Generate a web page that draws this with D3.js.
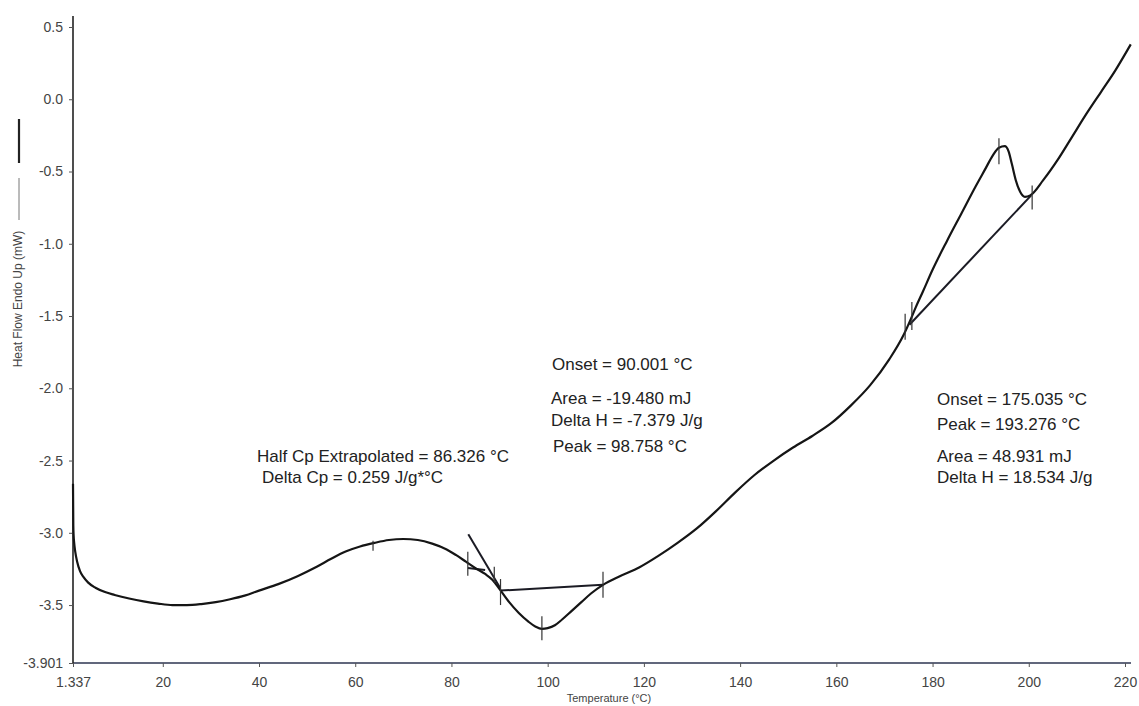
<!DOCTYPE html>
<html>
<head>
<meta charset="utf-8">
<script src="https://cdn.jsdelivr.net/npm/d3@7"></script>
<style>
  html, body { margin: 0; padding: 0; background: #fff; }
  svg { display: block; font-family: "Liberation Sans", Arial, sans-serif; }
</style>
</head>
<body>
<svg id="chart" width="1139" height="706"></svg>
<script>
// DSC heat-flow trace: temperature (°C) vs heat flow, endo up (mW)
const heatFlow = [
  [1.337, -2.66], [1.40, -2.95], [1.47, -3.02], [1.58, -3.07], [1.8, -3.13], [2.2, -3.2],
  [2.8, -3.265], [3.5, -3.305], [4.5, -3.345], [6, -3.38], [8, -3.41], [10, -3.43],
  [13, -3.455], [16, -3.475], [19, -3.49], [22, -3.5], [25, -3.5], [28, -3.493],
  [31, -3.48], [34, -3.46], [37, -3.435], [40, -3.4], [44, -3.355], [48, -3.3],
  [52, -3.235], [55, -3.18], [58, -3.13], [61, -3.095], [64, -3.07], [67, -3.05],
  [70, -3.043], [73, -3.05], [76, -3.075], [79, -3.115], [81, -3.155], [83, -3.2],
  [85, -3.245], [87, -3.285], [88.5, -3.325], [90, -3.39], [92, -3.48], [94, -3.555],
  [96, -3.615], [97.5, -3.65], [98.8, -3.665], [100, -3.66], [101.5, -3.64], [103, -3.6],
  [105, -3.54], [107, -3.48], [109, -3.42], [111.5, -3.36], [115, -3.3], [119, -3.24],
  [123, -3.16], [127, -3.07], [131, -2.97], [135, -2.85], [139, -2.72], [143, -2.6],
  [147, -2.5], [151, -2.41], [155, -2.33], [159, -2.24], [163, -2.12], [167, -1.98],
  [171, -1.8], [174, -1.63], [175.5, -1.52], [176.5, -1.44], [178, -1.33], [180, -1.18],
  [183, -0.98], [186, -0.79], [189, -0.6], [191, -0.48], [192.5, -0.39], [193.8, -0.335],
  [195, -0.325], [195.8, -0.36], [196.5, -0.45], [197.3, -0.56], [198.2, -0.64],
  [199.2, -0.675], [200.3, -0.665], [203, -0.56], [206, -0.42], [209, -0.26],
  [212, -0.1], [215, 0.05], [218, 0.2], [221.2, 0.38]
];

// Construction lines from the analysis (start and end points)
const tgTangent = [[83.5, -3.01], [90.1, -3.38]];
const tgBaseline = [[83.4, -3.243], [87.0, -3.257]];
const exoBaseline = [[90.1, -3.40], [111.5, -3.36]];
const endoBaseline = [[175.2, -1.56], [200.5, -0.665]];

// Analysis limit / event markers on the trace: [temperature, heat flow, half length]
const eventMarks = [
  [63.7, -3.09, 5], [83.4, -3.215, 12], [88.9, -3.29, 8], [90.2, -3.41, 13],
  [98.8, -3.66, 12], [111.5, -3.36, 13], [174.3, -1.575, 13], [175.7, -1.5, 14],
  [193.8, -0.36, 13], [200.7, -0.68, 12]
];

// Axis ticks
const xTicks = [20, 40, 60, 80, 100, 120, 140, 160, 180, 200, 220];
const yTicks = [0.5, 0.0, -0.5, -1.0, -1.5, -2.0, -2.5, -3.0, -3.5];
const xMinLabel = "1.337";
const yMinLabel = "-3.901";

// Result annotations
const tgLines = ["Half Cp Extrapolated = 86.326 °C", "Delta Cp = 0.259 J/g*°C"];
const exoLines = ["Onset = 90.001 °C", "Area = -19.480 mJ", "Delta H = -7.379 J/g", "Peak = 98.758 °C"];
const endoLines = ["Onset = 175.035 °C", "Peak = 193.276 °C", "Area = 48.931 mJ", "Delta H = 18.534 J/g"];

const svg = d3.select("#chart");
const x = d3.scaleLinear().domain([1.337, 220]).range([73, 1125]);
const y = d3.scaleLinear().domain([-3.901, 0.5]).range([663, 27]);

const fontStack = "'Liberation Sans', Arial, sans-serif";

// x axis
const gx = svg.append("g").attr("transform", "translate(0,663)");
gx.append("line").attr("x1", x(1.337)).attr("x2", 1131).attr("y1", 0).attr("y2", 0)
  .attr("stroke", "#2d3550").attr("stroke-width", 1.3);
const xAxis = d3.axisBottom(x).tickValues([1.337, ...xTicks]).tickSize(4).tickPadding(10)
  .tickFormat(d => d === 1.337 ? xMinLabel : String(d));
gx.call(xAxis);
gx.select(".domain").remove();
gx.selectAll(".tick line").attr("stroke", "#555");
gx.selectAll(".tick text").attr("fill", "#444").style("font-size", "14px")
  .style("font-family", fontStack);

// y axis
const gy = svg.append("g").attr("transform", "translate(73,0)");
gy.append("line").attr("x1", 0).attr("x2", 0).attr("y1", 16).attr("y2", 663)
  .attr("stroke", "#222").attr("stroke-width", 1.6);
const yAxis = d3.axisLeft(y).tickValues([...yTicks, -3.901]).tickSize(4).tickPadding(6)
  .tickFormat(d => d === -3.901 ? yMinLabel : d.toFixed(1));
gy.call(yAxis);
gy.select(".domain").remove();
gy.selectAll(".tick line").attr("stroke", "#555");
gy.selectAll(".tick text").attr("fill", "#444").style("font-size", "14px")
  .style("font-family", fontStack);

// axis titles
svg.append("text").attr("x", 609).attr("y", 702).attr("text-anchor", "middle")
  .attr("fill", "#444").style("font-size", "11px").text("Temperature (°C)");
svg.append("text").attr("transform", "translate(22,299) rotate(-90)")
  .attr("text-anchor", "middle").attr("fill", "#444").style("font-size", "12px")
  .text("Heat Flow Endo Up (mW)");
// series legend swatches beside the y title
svg.append("line").attr("x1", 19).attr("x2", 19).attr("y1", 178).attr("y2", 220)
  .attr("stroke", "#777").attr("stroke-width", 1);
svg.append("line").attr("x1", 19).attr("x2", 19).attr("y1", 119).attr("y2", 163)
  .attr("stroke", "#222").attr("stroke-width", 2.2);

// construction lines
const seg = d3.line().x(d => x(d[0])).y(d => y(d[1]));
[tgTangent, tgBaseline, exoBaseline, endoBaseline].forEach(s => {
  svg.append("path").attr("d", seg(s)).attr("fill", "none")
    .attr("stroke", "#1b1b24").attr("stroke-width", 2);
});

// trace
const line = d3.line().x(d => x(d[0])).y(d => y(d[1])).curve(d3.curveMonotoneX);
svg.append("path").datum(heatFlow).attr("d", line).attr("fill", "none")
  .attr("stroke", "#151515").attr("stroke-width", 2.2).attr("stroke-linejoin", "round");

// event markers
svg.append("g").selectAll("line").data(eventMarks).join("line")
  .attr("x1", d => x(d[0])).attr("x2", d => x(d[0]))
  .attr("y1", d => y(d[1]) - d[2]).attr("y2", d => y(d[1]) + d[2])
  .attr("stroke", "#333").attr("stroke-width", 1.2);

// annotations
function block(lines, x0, ys) {
  const g = svg.append("g").attr("fill", "#222").style("font-size", "17px");
  lines.forEach((t, i) => g.append("text").attr("x", x0[i]).attr("y", ys[i]).text(t));
}
block(tgLines, [257, 262], [462, 483]);
block(exoLines, [552, 551, 551, 553], [370, 404, 426, 452]);
block(endoLines, [937, 937, 937, 937], [405, 430, 462, 483]);
</script>
</body>
</html>
